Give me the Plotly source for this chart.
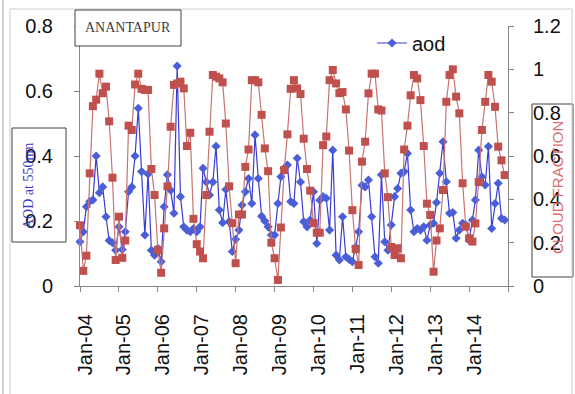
import plotly.graph_objects as go
import pandas as pd

# ---- data (monthly, Jan 2004 - Dec 2014) ----
start_month = "2004-01-01"
n_months = 132
months = pd.date_range(start_month, periods=n_months, freq="MS")

aod = [
    0.136, 0.167, 0.244, 0.260, 0.265, 0.400, 0.287, 0.305, 0.213, 0.140, 0.133, 0.110,
    0.182, 0.112, 0.167, 0.290, 0.305, 0.400, 0.547, 0.352, 0.157, 0.345, 0.110, 0.095,
    0.116, 0.075, 0.244, 0.342, 0.295, 0.224, 0.677, 0.275, 0.182, 0.172, 0.167, 0.177,
    0.167, 0.182, 0.362, 0.320, 0.280, 0.320, 0.430, 0.234, 0.195, 0.297, 0.198, 0.106,
    0.144, 0.172, 0.249, 0.290, 0.331, 0.254, 0.465, 0.331, 0.215, 0.200, 0.182, 0.157,
    0.157, 0.254, 0.336, 0.362, 0.372, 0.260, 0.254, 0.393, 0.320, 0.198, 0.182, 0.203,
    0.290, 0.131, 0.264, 0.275, 0.270, 0.172, 0.418, 0.095, 0.080, 0.213, 0.090, 0.082,
    0.075, 0.120, 0.167, 0.310, 0.305, 0.326, 0.213, 0.090, 0.070, 0.342, 0.136, 0.110,
    0.188, 0.275, 0.300, 0.347, 0.352, 0.408, 0.234, 0.167, 0.177, 0.172, 0.182, 0.141,
    0.188, 0.193, 0.257, 0.347, 0.444, 0.321, 0.224, 0.226, 0.147, 0.172, 0.193, 0.188,
    0.141, 0.203, 0.265, 0.418, 0.336, 0.311, 0.429, 0.177, 0.254, 0.316, 0.208, 0.203,
]

cloud_fraction = [
    0.280, 0.070, 0.140, 0.520, 0.830, 0.860, 0.980, 0.890, 0.920, 0.760, 0.500, 0.120,
    0.320, 0.130, 0.210, 0.740, 0.720, 0.930, 0.980, 0.910, 0.905, 0.905, 0.540, 0.420,
    0.166, 0.061, 0.266, 0.460, 0.735, 0.928, 0.935, 0.943, 0.912, 0.646, 0.707, 0.310,
    0.193, 0.159, 0.128, 0.420, 0.712, 0.974, 0.966, 0.958, 0.940, 0.750, 0.460, 0.290,
    0.105, 0.330, 0.330, 0.550, 0.630, 0.950, 0.950, 0.940, 0.790, 0.635, 0.530, 0.200,
    0.128, 0.028, 0.270, 0.535, 0.700, 0.910, 0.950, 0.912, 0.886, 0.680, 0.540, 0.440,
    0.290, 0.246, 0.246, 0.650, 0.690, 0.950, 0.997, 0.935, 0.890, 0.895, 0.815, 0.625,
    0.350, 0.170, 0.097, 0.574, 0.666, 0.889, 0.980, 0.980, 0.815, 0.810, 0.520, 0.410,
    0.180, 0.143, 0.174, 0.128, 0.630, 0.740, 0.880, 0.974, 0.958, 0.858, 0.646, 0.380,
    0.328, 0.066, 0.210, 0.266, 0.443, 0.850, 0.974, 1.000, 0.874, 0.797, 0.474, 0.274,
    0.220, 0.205, 0.289, 0.480, 0.720, 0.850, 0.974, 0.943, 0.827, 0.643, 0.580, 0.512,
]

tick_years = list(range(2004, 2016))
tick_vals = [f"{y}-01-01" for y in tick_years]
tick_text = [f"Jan-{y % 100:02d}" for y in tick_years[:-1]] + [""]

left_ticks = [0, 0.2, 0.4, 0.6, 0.8]
right_ticks = [0, 0.2, 0.4, 0.6, 0.8, 1.0, 1.2]

# ---- layout helpers (pixel -> paper) ----
W, H = 575, 394
PL, PR, PT, PB = 80, 508, 26, 286


def px(x):
    return (x - PL) / (PR - PL)


def py(y):
    return (PB - y) / (PB - PT)


AXC = "#868686"
TICKFONT = dict(family="Liberation Sans, Arial, sans-serif", size=20, color="#111111")

fig = go.Figure()
fig.add_trace(go.Scatter(
    x=months, y=aod, name="aod", mode="lines+markers", yaxis="y",
    line=dict(color="#3b3bd0", width=1.2),
    marker=dict(symbol="diamond", size=7, color="#4a5ed8", line=dict(width=0)),
    cliponaxis=False,
))
fig.add_trace(go.Scatter(
    x=months, y=cloud_fraction, name="CLOUD FRACTION", mode="lines+markers", yaxis="y2",
    line=dict(color="#c87470", width=1.2),
    marker=dict(symbol="square", size=8, color="#c0504d", line=dict(width=0)),
    cliponaxis=False, showlegend=False,
))

fig.update_layout(
    width=W, height=H,
    margin=dict(l=PL, r=W - PR, t=PT, b=H - PB, autoexpand=False),
    paper_bgcolor="white", plot_bgcolor="white",
    xaxis=dict(
        type="date", range=[tick_vals[0], tick_vals[-1]],
        tickmode="array", tickvals=tick_vals, ticktext=tick_text,
        tickangle=-90, ticks="outside", ticklen=5, tickcolor=AXC,
        showline=True, linecolor=AXC, linewidth=1, showgrid=False, zeroline=False,
        tickfont=TICKFONT, ticklabelstandoff=14, ticklabelshift=5,
    ),
    yaxis=dict(
        range=[0, 0.8], tickmode="array", tickvals=left_ticks,
        ticktext=[f"{v:g}" for v in left_ticks],
        ticks="outside", ticklen=5, tickcolor=AXC,
        showline=True, linecolor=AXC, linewidth=1, showgrid=False, zeroline=False,
        tickfont=TICKFONT, ticklabelstandoff=17,
    ),
    yaxis2=dict(
        range=[0, 1.2], overlaying="y", side="right", tickmode="array", tickvals=right_ticks,
        ticktext=[f"{v:g}" for v in right_ticks],
        ticks="outside", ticklen=5, tickcolor=AXC,
        showline=True, linecolor=AXC, linewidth=1, showgrid=False, zeroline=False,
        tickfont=TICKFONT, ticklabelstandoff=15,
    ),
    legend=dict(
        x=px(372), y=py(43), xanchor="left", yanchor="middle",
        bgcolor="rgba(0,0,0,0)", font=dict(family="Liberation Sans, Arial, sans-serif", size=20, color="#111111"),
        itemwidth=30,
    ),
    showlegend=True,
)

shapes = [
    # outer frame lines
    dict(type="line", xref="paper", yref="paper", x0=px(3), x1=px(3), y0=py(H), y1=py(0),
         line=dict(color="#a8a8a8", width=1)),
    dict(type="line", xref="paper", yref="paper", x0=px(10), x1=px(10), y0=py(H), y1=py(9),
         line=dict(color="#cccccc", width=1)),
    dict(type="line", xref="paper", yref="paper", x0=px(10), x1=px(572), y0=py(9), y1=py(9),
         line=dict(color="#cccccc", width=1)),
    dict(type="line", xref="paper", yref="paper", x0=px(572), x1=px(572), y0=py(9), y1=py(H),
         line=dict(color="#cccccc", width=1)),
    # title box
    dict(type="rect", xref="paper", yref="paper", x0=px(75), x1=px(181), y0=py(46), y1=py(10),
         line=dict(color="#404040", width=1), fillcolor="white", layer="above"),
    # left axis title box
    dict(type="rect", xref="paper", yref="paper", x0=px(12), x1=px(66), y0=py(242), y1=py(128),
         line=dict(color="#404040", width=1), fillcolor="white", layer="below"),
    # right axis title box
    dict(type="rect", xref="paper", yref="paper", x0=px(532), x1=px(573), y0=py(277), y1=py(104),
         line=dict(color="#404040", width=1), fillcolor="white", layer="below"),
]
fig.update_layout(shapes=shapes)

fig.add_annotation(
    text="ANANTAPUR", xref="paper", yref="paper", x=px(128), y=py(28),
    xanchor="center", yanchor="middle", showarrow=False,
    font=dict(family="Liberation Serif, Times New Roman, serif", size=14, color="#404040"),
)
fig.add_annotation(
    text="AOD at 550nm", xref="paper", yref="paper", x=px(28), y=py(186),
    xanchor="center", yanchor="middle", showarrow=False, textangle=-90,
    font=dict(family="Liberation Serif, Times New Roman, serif", size=14, color="#3b3bc0"),
)
fig.add_annotation(
    text="CLOUD FRACTION", xref="paper", yref="paper", x=px(557), y=py(188),
    xanchor="center", yanchor="middle", showarrow=False, textangle=-90,
    font=dict(family="Liberation Sans, Arial, sans-serif", size=15, color="#e06a6a"),
)

fig.write_html("out.html")
